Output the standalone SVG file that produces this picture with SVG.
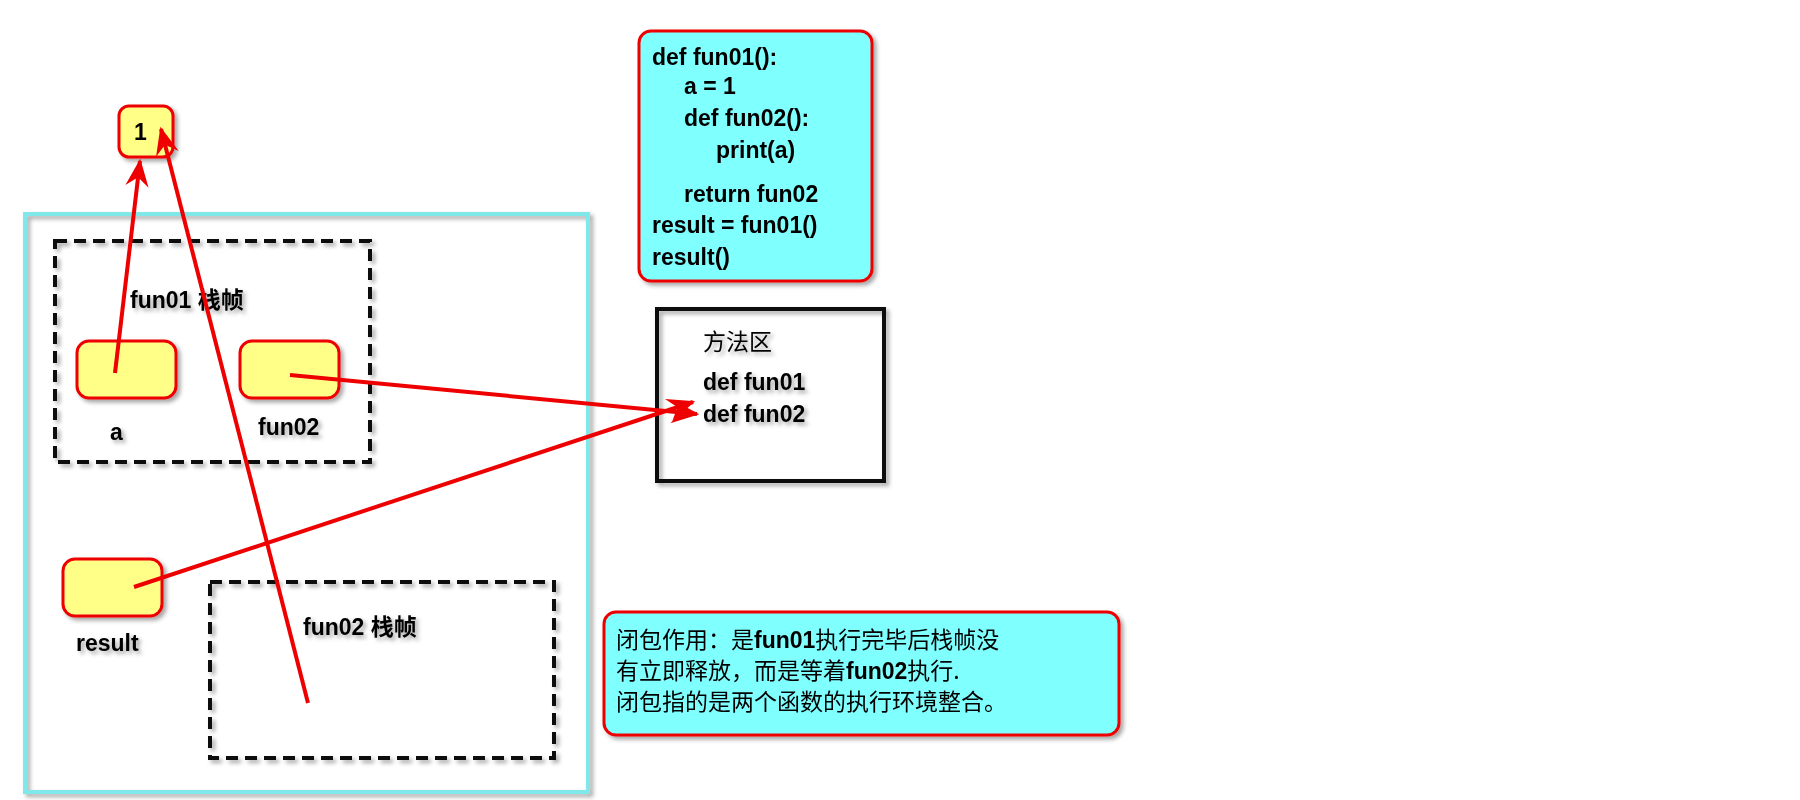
<svg xmlns="http://www.w3.org/2000/svg" width="1800" height="800" viewBox="0 0 1800 800">
<style>
.y{fill:#ffff88;stroke:#e00;stroke-width:3}
.c{fill:#80ffff;stroke:#e00;stroke-width:3}
.d{fill:none;stroke:#111;stroke-width:4;stroke-dasharray:12 7}
.t{font-family:"Liberation Sans","Noto Sans CJK SC",sans-serif;font-weight:bold;font-size:23px;fill:#000}
.z{font-family:"Noto Sans CJK SC",sans-serif;font-size:23px;fill:#000}
.a{stroke:#e00;stroke-width:4;fill:none;marker-end:url(#m)}
</style>
<defs>
<marker id="m" viewBox="0 0 12 10" refX="11" refY="5" markerWidth="7" markerHeight="6" orient="auto" markerUnits="strokeWidth"><path d="M0,0 L12,5 L0,10 L4,5 z" fill="#e00"/></marker>
<filter id="s"><feDropShadow dx="3" dy="3" stdDeviation="2" flood-opacity="0.35"/></filter>
</defs>
<rect width="1800" height="800" fill="#fff"/>
<g filter="url(#s)">
<g id="outer"><rect x="25" y="214" width="563" height="578" fill="none" stroke="#80e8e8" stroke-width="4"/></g>
<g id="fun01frame"><rect x="55" y="241" width="315" height="221" class="d"/><text class="t" x="130" y="308">fun01 <tspan class="z">栈帧</tspan></text></g>
<g id="fun02frame"><rect x="210" y="582" width="344" height="176" class="d"/><text class="t" x="303" y="635">fun02 <tspan class="z">栈帧</tspan></text></g>
<g id="one"><rect x="119" y="106" width="54" height="51" rx="10" class="y"/><text class="t" x="134" y="140">1</text></g>
<g id="a"><rect x="77" y="341" width="99" height="57" rx="12" class="y"/><text class="t" x="110" y="440">a</text></g>
<g id="fun02"><rect x="240" y="341" width="99" height="57" rx="12" class="y"/><text class="t" x="258" y="435">fun02</text></g>
<g id="result"><rect x="63" y="559" width="99" height="57" rx="12" class="y"/><text class="t" x="76" y="651">result</text></g>
<g id="code"><rect x="639" y="31" width="233" height="250" rx="12" class="c"/>
<text class="t"><tspan x="652" y="65">def fun01():</tspan><tspan x="684" y="94">a = 1</tspan><tspan x="684" y="126">def fun02():</tspan><tspan x="716" y="158">print(a)</tspan><tspan x="684" y="202">return fun02</tspan><tspan x="652" y="233">result = fun01()</tspan><tspan x="652" y="265">result()</tspan></text></g>
<g id="method"><rect x="657" y="309" width="227" height="172" fill="none" stroke="#111" stroke-width="4"/><text class="z" x="703" y="350" font-weight="normal">方法区</text><text class="t" x="703" y="390">def fun01</text><text class="t" x="703" y="422">def fun02</text></g>
<g id="note"><rect x="604" y="612" width="515" height="123" rx="12" class="c"/>
<text class="z" font-size="24"><tspan x="616" y="648">闭包作用：是<tspan class="t" font-size="24">fun01</tspan>执行完毕后栈帧没</tspan><tspan x="616" y="679">有立即释放，而是等着<tspan class="t" font-size="24">fun02</tspan>执行.</tspan><tspan x="616" y="710">闭包指的是两个函数的执行环境整合。</tspan></text></g>
</g>
<g id="connectors">
<path class="a" d="M115,373 L140,161"/>
<path class="a" d="M308,703 L161,129"/>
<path class="a" d="M290,375 L697,414"/>
<path class="a" d="M134,587 L693,402"/>
</g>
</svg>
